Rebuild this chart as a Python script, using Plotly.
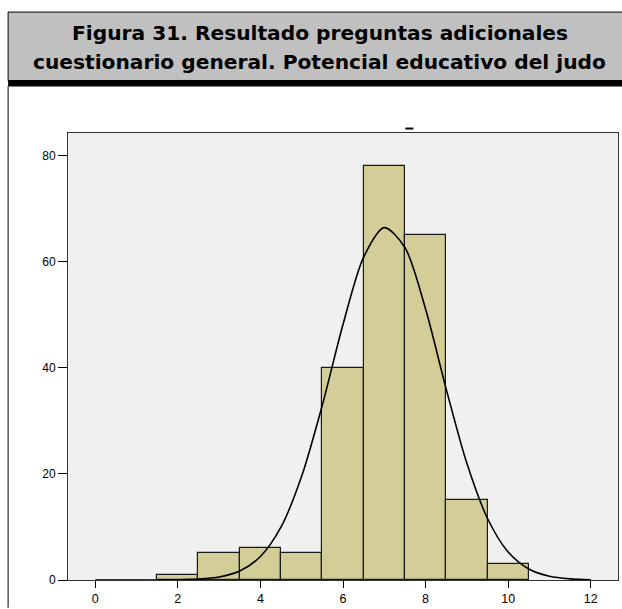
import plotly.graph_objects as go

# Data
bin_centers = [2, 3, 4, 5, 6, 7, 8, 9, 10]
counts = [1, 5, 6, 5, 40, 78, 65, 15, 3]

curve_x = [0, 0.5, 1, 1.5, 2, 2.5, 3, 3.5, 4, 4.5, 5, 5.5, 6, 6.5, 7, 7.5,
           8, 8.5, 9, 9.5, 10, 10.5, 11, 11.5, 12]
curve_y = [0, 0, 0, 0.01, 0.04, 0.16, 0.56, 1.69, 4.42, 10.0, 19.6, 33.0, 48.2,
           60.9, 66.45, 62.7, 51.1, 36.0, 22.0, 11.6, 5.27, 2.07, 0.70, 0.21, 0.05]

x_ticks = [0, 2, 4, 6, 8, 10, 12]
y_ticks = [0, 20, 40, 60, 80]

title_line1 = "Figura 31. Resultado preguntas adicionales"
title_line2 = "cuestionario general. Potencial educativo del judo"

W, H = 622, 609
L, R, T, B = 68, 619, 133, 584  # plot area pixel box


def px(x):
    return (x - L) / (R - L)


def py(y):
    return (B - y) / (B - T)


fig = go.Figure()
fig.add_trace(go.Bar(
    x=bin_centers, y=counts, width=1,
    marker=dict(color="#d3ce98", line=dict(color="#1a1a1a", width=1.2)),
    showlegend=False, hoverinfo="x+y",
))
fig.add_trace(go.Scatter(
    x=curve_x, y=curve_y, mode="lines",
    line=dict(color="black", width=1.6, shape="spline", smoothing=0.8),
    showlegend=False, hoverinfo="skip",
))

shapes = [
    # title box
    dict(type="rect", xref="paper", yref="paper", x0=px(8), x1=px(640),
         y0=py(80), y1=py(11), fillcolor="#c0c0c0",
         line=dict(color="black", width=1), layer="below"),
    # thick black band under title
    dict(type="rect", xref="paper", yref="paper", x0=px(8), x1=px(640),
         y0=py(86), y1=py(80), fillcolor="black", line=dict(width=0)),
    # outer left border
    dict(type="line", xref="paper", yref="paper", x0=px(8), x1=px(8),
         y0=py(612), y1=py(86), line=dict(color="black", width=1)),
    # small leftover mark above plot
    dict(type="line", xref="paper", yref="paper", x0=px(406), x1=px(414),
         y0=py(128.5), y1=py(128.5), line=dict(color="black", width=2)),
]

title_font = dict(family="DejaVu Sans, sans-serif", size=20.2,
                  color="black", weight="bold")
annotations = [
    dict(text=title_line1, xref="paper", yref="paper", x=px(320), y=py(32),
         xanchor="center", yanchor="middle", showarrow=False, font=title_font),
    dict(text=title_line2, xref="paper", yref="paper", x=px(320), y=py(61),
         xanchor="center", yanchor="middle", showarrow=False, font=title_font),
]

fig.update_layout(
    width=W, height=H,
    margin=dict(l=L, r=W - R, t=T, b=H - B, pad=0),
    paper_bgcolor="white", plot_bgcolor="#f0f0f0",
    bargap=0,
    shapes=shapes, annotations=annotations,
    font=dict(family="Liberation Sans, Arial, sans-serif", color="black"),
)
fig.update_xaxes(
    range=[-0.66, 12.66], tickvals=x_ticks, ticks="outside", ticklen=7,
    tickcolor="black", showline=True, linecolor="#333", linewidth=1,
    mirror=True, showgrid=False, zeroline=False,
    tickfont=dict(size=12.5, color="black"),
)
fig.update_yaxes(
    range=[0, 84.3], tickvals=y_ticks, ticks="outside", ticklen=9,
    tickcolor="black", showline=True, linecolor="#333", linewidth=1,
    mirror=True, showgrid=False, zeroline=False,
    tickfont=dict(size=12, color="black"),
)

fig.write_html(
    "out.html",
    config={"displayModeBar": False},
    post_script="document.body.style.margin='0';"
                "document.documentElement.style.overflow='hidden';",
)
